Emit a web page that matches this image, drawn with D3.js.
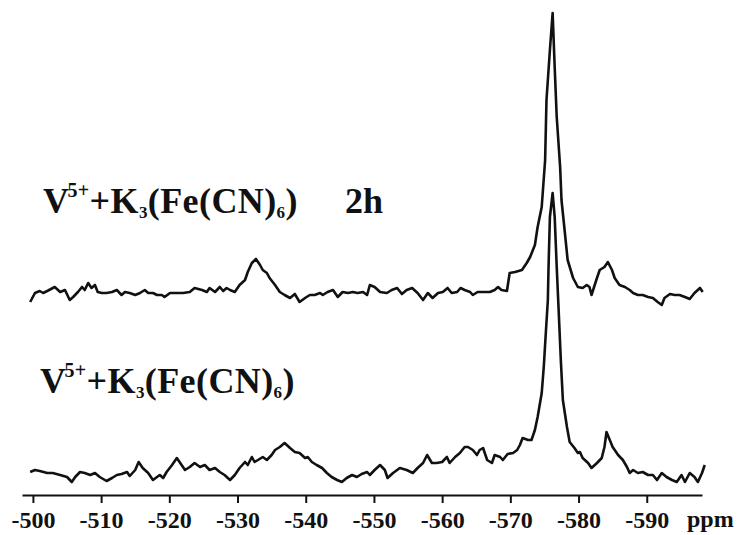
<!DOCTYPE html>
<html>
<head>
<meta charset="utf-8">
<script src="https://cdn.jsdelivr.net/npm/d3@7/dist/d3.min.js"></script>
<style>
  html, body { margin: 0; padding: 0; background: #fff; }
  svg { display: block; }
  .lbl { font-family: "Liberation Serif", "Times New Roman", serif; font-weight: bold; fill: #111; }
</style>
</head>
<body>
<svg id="chart" width="743" height="535"></svg>
<script>
// 51V NMR spectra: [chemical shift (ppm), intensity (a.u.)]
const spectrum2h = [
  [-499.6,-9],[-500.3,0],[-501.0,2],[-501.5,0],[-502.1,2],[-503.2,6],[-504.0,1],[-504.7,3],
  [-505.4,-7],[-505.9,-4],[-506.6,1],[-507.2,6],[-507.6,3],[-508.1,10],[-508.6,5],[-509.1,8],
  [-509.5,1],[-510.1,0],[-510.8,0],[-511.6,1],[-512.3,3],[-513.0,-2],[-513.5,1],[-514.2,0],
  [-515.0,-2],[-515.7,0],[-516.4,3],[-516.9,0],[-517.6,0],[-518.2,-2],[-518.9,-2],[-519.3,-4],
  [-520.1,0],[-521.1,0],[-522.0,0],[-523.0,1],[-523.7,5],[-524.8,3],[-525.5,1],[-525.9,5],
  [-526.7,1],[-527.4,6],[-527.9,2],[-528.4,5],[-528.9,3],[-529.6,1],[-530.3,8],[-531.1,13],
  [-531.5,21],[-532.1,30],[-532.7,34],[-533.3,28],[-533.7,23],[-534.3,20],[-534.7,15],[-535.5,8],
  [-536.2,1],[-536.9,-2],[-537.7,-5],[-538.4,-1],[-539.1,-9],[-539.9,-5],[-540.6,-2],[-541.3,-2],
  [-542.1,0],[-542.5,-2],[-543.2,1],[-544.0,3],[-544.7,-4],[-545.4,1],[-546.2,0],[-546.9,1],
  [-547.6,0],[-548.4,1],[-549.0,-2],[-549.4,8],[-550.1,6],[-550.9,1],[-551.9,0],[-552.6,3],
  [-553.4,5],[-554.1,-1],[-554.8,3],[-555.6,5],[-556.4,0],[-557.2,-7],[-557.9,0],[-558.6,-5],
  [-559.4,0],[-560.1,1],[-560.8,5],[-561.4,0],[-562.2,1],[-562.7,5],[-563.3,3],[-564.1,1],
  [-564.5,-2],[-565.2,1],[-566.3,1],[-567.0,1],[-567.7,3],[-568.2,6],[-568.7,3],[-569.5,2],
  [-569.9,20],[-570.7,21],[-571.7,23],[-572.4,30],[-572.9,36],[-573.6,48],[-574.0,66],[-574.6,86],
  [-575.1,133],[-575.3,193],[-575.8,243],[-576.2,280],[-576.5,226],[-576.8,176],[-577.3,126],[-577.5,93],
  [-578.0,60],[-578.4,33],[-579.2,15],[-579.9,6],[-580.6,5],[-581.2,8],[-581.6,6],[-581.9,-2],
  [-582.7,15],[-583.1,23],[-583.8,26],[-584.3,31],[-584.9,23],[-585.3,15],[-586.0,8],[-586.8,6],
  [-587.5,3],[-588.0,0],[-588.7,-2],[-589.4,-2],[-590.2,-4],[-590.9,-5],[-591.6,-9],[-592.2,-12],
  [-592.6,-5],[-593.4,-1],[-594.1,-2],[-594.8,-2],[-595.6,-4],[-596.3,-6],[-597.0,0],[-597.8,5],
  [-598.2,1]
];

const spectrum0h = [
  [-499.6,1],[-500.3,3],[-501.0,2],[-502.1,0],[-502.9,0],[-504.0,-2],[-505.0,-4],[-505.7,-9],
  [-506.2,-4],[-506.9,1],[-507.6,0],[-508.4,-2],[-509.1,0],[-509.8,-4],[-510.8,-8],[-511.6,-5],
  [-512.3,-2],[-513.0,-1],[-513.8,1],[-514.2,-3],[-515.0,3],[-515.5,11],[-516.1,5],[-516.9,0],
  [-517.6,-7],[-518.2,-4],[-518.6,-2],[-519.1,-5],[-519.6,1],[-520.4,8],[-521.1,15],[-521.8,8],
  [-522.3,3],[-523.0,6],[-523.7,10],[-524.5,6],[-525.2,8],[-525.9,3],[-526.7,5],[-527.4,1],
  [-528.1,-2],[-528.9,-7],[-529.6,-2],[-530.3,5],[-531.1,11],[-531.5,8],[-532.1,16],[-532.5,11],
  [-533.0,13],[-533.7,16],[-534.3,13],[-535.0,18],[-535.5,23],[-536.2,26],[-536.9,30],[-537.7,25],
  [-538.4,21],[-539.1,20],[-539.9,15],[-540.3,16],[-540.9,11],[-541.6,8],[-542.4,5],[-543.1,0],
  [-543.8,-4],[-544.6,-7],[-545.3,-9],[-546.0,-5],[-546.8,-2],[-547.5,-4],[-548.2,-1],[-549.0,1],
  [-549.4,-2],[-550.1,3],[-550.9,8],[-551.6,3],[-552.0,-5],[-552.8,0],[-553.8,5],[-554.8,3],
  [-555.7,0],[-556.4,5],[-557.2,10],[-557.8,18],[-558.5,10],[-559.2,10],[-560.0,11],[-560.7,16],
  [-561.1,10],[-561.9,16],[-562.6,20],[-563.3,26],[-563.8,26],[-564.5,23],[-565.1,18],[-565.5,23],
  [-566.0,25],[-566.6,13],[-567.3,10],[-567.7,18],[-568.5,16],[-568.9,13],[-569.6,19],[-570.4,20],
  [-571.0,23],[-571.4,28],[-571.8,35],[-572.6,33],[-573.1,33],[-573.6,43],[-574.0,56],[-574.6,80],
  [-574.9,106],[-575.2,140],[-575.5,173],[-575.6,206],[-575.8,256],[-576.2,280],[-576.5,256],[-576.8,206],
  [-577.1,160],[-577.4,113],[-577.7,73],[-578.3,46],[-578.7,31],[-579.4,25],[-579.9,20],[-580.2,21],
  [-580.6,15],[-581.4,10],[-581.9,5],[-582.7,10],[-583.4,15],[-583.8,26],[-584.1,41],[-584.4,36],
  [-585.0,26],[-585.8,18],[-586.5,13],[-587.1,6],[-587.5,0],[-588.0,3],[-588.7,0],[-589.4,1],
  [-590.2,-2],[-590.9,-2],[-591.5,-7],[-592.2,0],[-592.9,-4],[-593.7,-7],[-594.4,-9],[-595.1,-2],
  [-595.6,-9],[-596.3,0],[-597.0,-4],[-597.5,-9],[-598.1,0],[-598.5,8]
];

// vertical stacking offsets (a.u.) for each trace
const offsets = [180, 0];
const series = [spectrum2h, spectrum0h];

const tickValues = [-500, -510, -520, -530, -540, -550, -560, -570, -580, -590];
const axisUnit = "ppm";

const svg = d3.select("#chart");

const x = d3.scaleLinear().domain([-498.4, -598.1]).range([22, 702]);
const y = d3.scaleLinear().domain([0, 480]).range([473, -7]);

const line = d3.line()
  .x(d => x(d[0]))
  .y(d => y(d[1]));

series.forEach((s, i) => {
  svg.append("path")
    .datum(s.map(d => [d[0], d[1] + offsets[i]]))
    .attr("d", line)
    .attr("fill", "none")
    .attr("stroke", "#111")
    .attr("stroke-width", 2.6)
    .attr("stroke-linejoin", "round");
});

// chemical shift axis
const axis = d3.axisBottom(x)
  .tickValues(tickValues)
  .tickFormat(d => String(d))
  .tickSizeInner(8)
  .tickSizeOuter(0)
  .tickPadding(8);

const gx = svg.append("g")
  .attr("transform", "translate(0,495)")
  .call(axis);
gx.select(".domain").attr("stroke", "#111").attr("stroke-width", 2.2);
gx.selectAll(".tick line").attr("stroke", "#111").attr("stroke-width", 2);
gx.selectAll(".tick text")
  .attr("class", "lbl")
  .attr("font-size", 24)
  .attr("dy", "0.71em")
  .attr("fill", "#111");

svg.append("text")
  .attr("class", "lbl")
  .attr("x", 687).attr("y", 527)
  .attr("font-size", 24)
  .text(axisUnit);

// trace labels
function formulaLabel(x0, y0) {
  const t = svg.append("text")
    .attr("class", "lbl")
    .attr("x", x0).attr("y", y0)
    .attr("font-size", 36)
    .attr("letter-spacing", 0.4);
  t.append("tspan").text("V");
  t.append("tspan").attr("font-size", 20).attr("dx", -2).attr("dy", -16).text("5+");
  t.append("tspan").attr("dy", 16).text("+K");
  t.append("tspan").attr("font-size", 17).attr("dy", 5).text("3");
  t.append("tspan").attr("dy", -5).text("(Fe(CN)");
  t.append("tspan").attr("font-size", 17).attr("dy", 5).text("6");
  t.append("tspan").attr("dy", -5).text(")");
  return t;
}

formulaLabel(43, 213);
svg.append("text")
  .attr("class", "lbl")
  .attr("x", 345).attr("y", 213)
  .attr("font-size", 36)
  .text("2h");

formulaLabel(40, 393);
</script>
</body>
</html>
